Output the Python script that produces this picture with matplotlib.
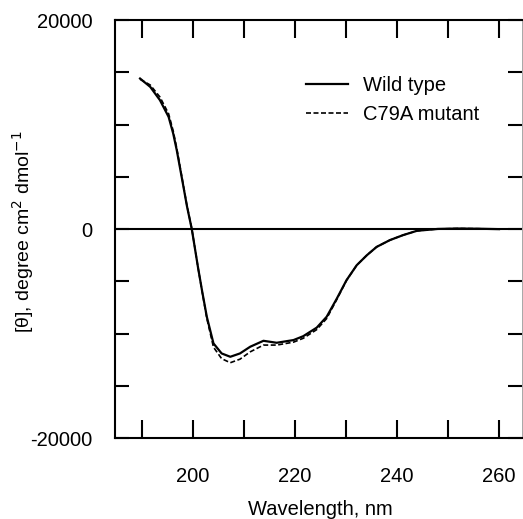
import numpy as np
import matplotlib
matplotlib.use("Agg")
import matplotlib.pyplot as plt
from matplotlib.ticker import FuncFormatter

plt.rcParams['font.family'] = ['Liberation Sans', 'DejaVu Sans']

# CD spectra (nm, mean residue ellipticity)
wl = [189.6, 191.6, 193.5, 195.2, 196.1, 196.8, 197.8, 198.8, 199.75, 201.0, 201.8, 202.7,
      204.0, 205.6, 207.3, 209.2, 211.2, 213.8, 216.4, 219.7, 221.6, 224.25, 226.2, 228.2,
      230.1, 232.1, 234.1, 236.0, 238.6, 241.2, 243.9, 248.0, 252.0, 256.0, 260.0]
wild_type = [14420, 13620, 12350, 10750, 9160, 7560, 4900, 2200, 0, -3760, -6000, -8400,
             -10940, -11900, -12220, -11900, -11260, -10690, -10880, -10620, -10250, -9430, -8390, -6640,
             -4880, -3450, -2490, -1700, -1050, -570, -160, 20, 60, 40, 0]
c79a = [14350, 13800, 12650, 11050, 9400, 7750, 5000, 2250, 50, -3760, -6050, -8550,
        -11300, -12400, -12790, -12450, -11750, -11100, -11100, -10820, -10450, -9620, -8560, -6720,
        -4900, -3450, -2490, -1700, -1050, -570, -160, 20, 60, 40, 0]

xticks = [190, 200, 210, 220, 230, 240, 250, 260]
xlabels_shown = [200, 220, 240, 260]
yticks = [-20000, -15000, -10000, -5000, 0, 5000, 10000, 15000, 20000]
ylabels_shown = [-20000, 0, 20000]

fig = plt.figure(figsize=(5.23, 5.19), dpi=100)
ax = fig.add_axes([0.22, 0.156, 0.778, 0.805])

ax.axhline(0, color='black', lw=1.5)
ax.plot(wl, wild_type, color='black', lw=1.6, label='Wild type')
ax.plot(wl, c79a, color='black', lw=1.2, ls=(0, (3, 1.5)), label='C79A mutant')

ax.set_xlim(184.7, 264.5)
ax.set_ylim(-20000, 20000)
ax.set_xticks(xticks)
ax.set_yticks(yticks)
ax.xaxis.set_major_formatter(FuncFormatter(lambda v, p: f"{int(v)}" if int(round(v)) in xlabels_shown else ""))
ax.yaxis.set_major_formatter(FuncFormatter(lambda v, p: f"{int(v)}" if int(round(v)) in ylabels_shown else ""))

ax.tick_params(axis='x', direction='in', length=13, width=1.5, top=True, pad=21, labelsize=14.5)
ax.tick_params(axis='y', direction='in', length=10, width=1.5, right=True, pad=16.5, labelsize=14.5)
for s in ax.spines.values():
    s.set_linewidth(1.5)
ax.spines['right'].set_linewidth(0.6)
ax.spines['right'].set_color('#999999')

ax.set_xlabel('Wavelength, nm', fontsize=14.5)
ax.xaxis.set_label_coords(0.504, -0.148)
ax.set_ylabel('[θ], degree cm$^2$ dmol$^{-1}$', fontsize=14)
ax.yaxis.set_label_coords(-0.195, 0.493)

ax.legend(loc='upper left', bbox_to_anchor=(0.425, 0.911), frameon=False, fontsize=14.5,
          handlelength=2.1, handletextpad=0.7, labelspacing=0.5)

fig.savefig('out.png', dpi=100)
